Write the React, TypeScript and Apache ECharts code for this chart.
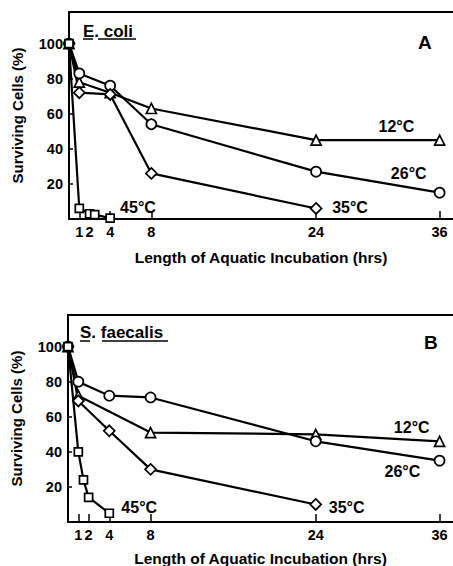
import React, { useEffect, useRef } from 'react';
import * as echarts from 'echarts';

// Axis ticks
const hourTicks = [1, 2, 4, 8, 24, 36];
const percentTicks = [20, 40, 60, 80, 100];

// Panel A — E. coli
const aHours12 = [0, 1, 4, 8, 24, 36];
const aVals12 = [100, 78, 72, 63, 45, 45];
const aHours26 = [0, 1, 4, 8, 24, 36];
const aVals26 = [100, 83, 76, 54, 27, 15];
const aHours35 = [0, 1, 4, 8, 24];
const aVals35 = [100, 72, 71, 26, 6];
const aHours45 = [0, 1, 2, 2.5, 4];
const aVals45 = [100, 6, 3, 2.5, 0.5];

// Panel B — S. faecalis
const bHours12 = [0, 1, 8, 24, 36];
const bVals12 = [100, 72, 51, 50, 46];
const bHours26 = [0, 1, 4, 8, 24, 36];
const bVals26 = [100, 80, 72, 71, 46, 35];
const bHours35 = [0, 1, 4, 8, 24];
const bVals35 = [100, 69, 52, 30, 10];
const bHours45 = [0, 1, 1.5, 2, 4];
const bVals45 = [100, 40, 24, 14, 5];

const tempNames = ['12°C', '26°C', '35°C', '45°C'];

// label anchors in data units [hour, percent]
const aLabelAt = [
  [31.8, 52.5],
  [33, 26],
  [27.3, 6.3],
  [6.7, 6.3],
];
const bLabelAt = [
  [33.3, 53.8],
  [32.4, 28.6],
  [27, 8],
  [6.9, 8],
];

const FONT = 'Liberation Sans';
const SYMBOLS = ['triangle', 'circle', 'diamond', 'rect'];
const SYMBOL_SIZES = [10, 10, 11, 8];

function makeSeries(
  idx: number,
  hours: number[],
  vals: number[],
  k: number,
  labelAt: number[]
) {
  return {
    type: 'line',
    xAxisIndex: idx * 2,
    yAxisIndex: idx,
    data: hours.map((h, i) => [h, vals[i]]),
    symbol: SYMBOLS[k],
    symbolSize: SYMBOL_SIZES[k],
    showSymbol: true,
    lineStyle: { color: '#000', width: 2.2 },
    itemStyle: { color: '#fff', borderColor: '#000', borderWidth: 1.7 },
    z: 3,
    markPoint: {
      symbol: 'circle',
      symbolSize: 0,
      silent: true,
      label: {
        show: true,
        position: 'inside',
        formatter: tempNames[k],
        color: '#000',
        fontFamily: FONT,
        fontWeight: 'bold',
        fontSize: 16,
      },
      data: [{ coord: labelAt }],
    },
  };
}

function xAxes(gridIndex: number, nameGap: number) {
  return [
    {
      type: 'value',
      gridIndex,
      min: 0,
      max: 37.3,
      position: 'bottom',
      name: 'Length of Aquatic Incubation (hrs)',
      nameLocation: 'middle',
      nameGap,
      nameTextStyle: { color: '#000', fontFamily: FONT, fontWeight: 'bold', fontSize: 15.5 },
      axisLine: { show: true, lineStyle: { color: '#000', width: 2 } },
      axisTick: { show: true, inside: true, length: 8, customValues: hourTicks, lineStyle: { color: '#000', width: 1.5 } },
      axisLabel: { customValues: hourTicks, color: '#000', fontFamily: FONT, fontWeight: 'bold', fontSize: 14.5, margin: 5 },
      splitLine: { show: false },
    },
    {
      type: 'value',
      gridIndex,
      min: 0,
      max: 37.3,
      position: 'top',
      axisLine: { show: true, lineStyle: { color: '#000', width: 2 } },
      axisTick: { show: false },
      axisLabel: { show: false },
      splitLine: { show: false },
    },
  ];
}

function yAxis(gridIndex: number) {
  return {
    type: 'value',
    gridIndex,
    min: 0,
    max: 118,
    name: 'Surviving Cells (%)',
    nameLocation: 'middle',
    nameGap: 44,
    nameTextStyle: { color: '#000', fontFamily: FONT, fontWeight: 'bold', fontSize: 15 },
    axisLine: { show: true, lineStyle: { color: '#000', width: 2 } },
    axisTick: { show: true, inside: true, length: 4, customValues: percentTicks, lineStyle: { color: '#000', width: 1.5 } },
    axisLabel: { customValues: percentTicks, color: '#000', fontFamily: FONT, fontWeight: 'bold', fontSize: 14.5, margin: 6 },
    splitLine: { show: false },
  };
}

export default function App() {
  const ref = useRef<HTMLDivElement>(null);
  useEffect(() => {
    if (!ref.current) return;
    const chart = echarts.init(ref.current, null, { renderer: 'svg' });
    const textStyle = (text: string, size: number) => ({
      text,
      fill: '#000',
      font: `bold ${size}px "${FONT}"`,
    });
    chart.setOption({
      animation: false,
      backgroundColor: '#fff',
      grid: [
        { left: 69, top: 12, width: 384, height: 207, outerBoundsMode: 'none', containLabel: false },
        { left: 68, top: 315, width: 385, height: 207, outerBoundsMode: 'none', containLabel: false },
      ],
      xAxis: [...xAxes(0, 30), ...xAxes(1, 28)],
      yAxis: [yAxis(0), yAxis(1)],
      series: [
        makeSeries(0, aHours12, aVals12, 0, aLabelAt[0]),
        makeSeries(0, aHours26, aVals26, 1, aLabelAt[1]),
        makeSeries(0, aHours35, aVals35, 2, aLabelAt[2]),
        makeSeries(0, aHours45, aVals45, 3, aLabelAt[3]),
        makeSeries(1, bHours12, bVals12, 0, bLabelAt[0]),
        makeSeries(1, bHours26, bVals26, 1, bLabelAt[1]),
        makeSeries(1, bHours35, bVals35, 2, bLabelAt[2]),
        makeSeries(1, bHours45, bVals45, 3, bLabelAt[3]),
      ],
      graphic: [
        { type: 'text', left: 83, top: 23, style: textStyle('E. coli', 17) },
        { type: 'line', shape: { x1: 83, y1: 39, x2: 93, y2: 39 }, style: { stroke: '#000', lineWidth: 1.5 } },
        { type: 'line', shape: { x1: 98, y1: 39, x2: 136, y2: 39 }, style: { stroke: '#000', lineWidth: 1.5 } },
        { type: 'text', left: 418, top: 33, style: textStyle('A', 19) },
        { type: 'text', left: 80, top: 324, style: textStyle('S. faecalis', 17) },
        { type: 'line', shape: { x1: 80, y1: 341, x2: 90, y2: 341 }, style: { stroke: '#000', lineWidth: 1.5 } },
        { type: 'line', shape: { x1: 102, y1: 341, x2: 168, y2: 341 }, style: { stroke: '#000', lineWidth: 1.5 } },
        { type: 'text', left: 424, top: 333, style: textStyle('B', 19) },
      ],
    });
    return () => chart.dispose();
  }, []);
  return (
    <div
      ref={ref}
      style={{ position: 'absolute', left: 0, top: 0, width: 453, height: 566, background: '#fff' }}
    />
  );
}
